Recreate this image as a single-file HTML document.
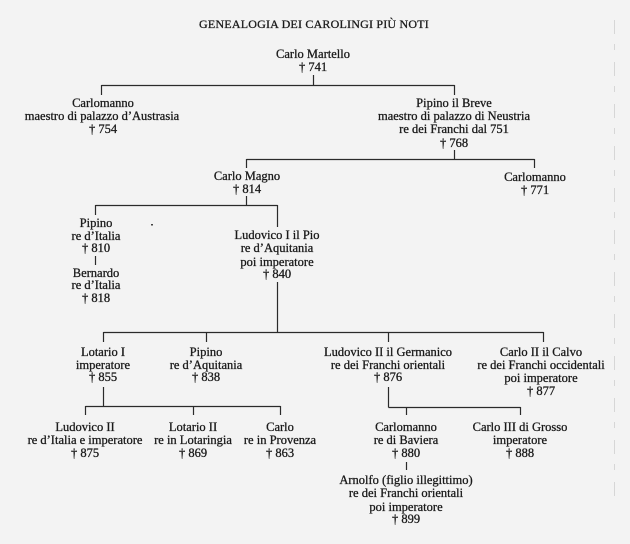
<!DOCTYPE html>
<html><head><meta charset="utf-8">
<style>
html,body{margin:0;padding:0;background:#f3f3f3;}
svg{display:block;}
text{font-family:"Liberation Serif",serif;font-size:12.5px;fill:#1a1a1a;stroke:#1a1a1a;stroke-width:0.3px;text-anchor:middle;}
.t{font-size:12px;letter-spacing:0.2px;}
line{stroke:#2a2a2a;stroke-width:1.2;}
</style></head>
<body>
<svg width="630" height="544" viewBox="0 0 630 544" xmlns="http://www.w3.org/2000/svg">
<rect x="0" y="0" width="630" height="544" fill="#f3f3f3"/>
<line x1="614.5" y1="20" x2="614.5" y2="500" style="stroke:#d6d6d6;stroke-width:1;stroke-dasharray:14 10 6 12"/>

<text class="t" x="314" y="28">GENEALOGIA DEI CAROLINGI PIÙ NOTI</text>

<text x="313" y="58">Carlo Martello</text>
<text x="313" y="71">† 741</text>
<line x1="313.5" y1="75" x2="313.5" y2="85.5"/>
<line x1="101.5" y1="85.5" x2="454.5" y2="85.5"/>
<line x1="101.5" y1="85" x2="101.5" y2="95"/>
<line x1="454.5" y1="85" x2="454.5" y2="95"/>

<text x="103" y="107">Carlomanno</text>
<text x="102" y="120">maestro di palazzo d’Austrasia</text>
<text x="103" y="133">† 754</text>

<text x="454" y="107">Pipino il Breve</text>
<text x="454" y="120">maestro di palazzo di Neustria</text>
<text x="454" y="133">re dei Franchi dal 751</text>
<text x="454" y="147">† 768</text>
<line x1="454.5" y1="150" x2="454.5" y2="159.5"/>
<line x1="246.5" y1="159.5" x2="534.5" y2="159.5"/>
<line x1="246.5" y1="159" x2="246.5" y2="168"/>
<line x1="534.5" y1="159" x2="534.5" y2="168"/>

<text x="247" y="180">Carlo Magno</text>
<text x="247" y="193">† 814</text>
<text x="535" y="181">Carlomanno</text>
<text x="535" y="194">† 771</text>

<line x1="246.5" y1="196" x2="246.5" y2="205.5"/>
<line x1="95.5" y1="205.5" x2="277.5" y2="205.5"/>
<line x1="95.5" y1="205" x2="95.5" y2="215"/>
<line x1="277.5" y1="205" x2="277.5" y2="227"/>

<text x="96" y="227">Pipino</text>
<text x="96" y="240">re d’Italia</text>
<text x="96" y="252">† 810</text>
<line x1="95.5" y1="256" x2="95.5" y2="265"/>
<text x="96" y="277">Bernardo</text>
<text x="96" y="289">re d’Italia</text>
<text x="96" y="302">† 818</text>

<rect x="151" y="224" width="2" height="1.5" fill="#444"/>

<text x="277" y="239">Ludovico I il Pio</text>
<text x="277" y="252">re d’Aquitania</text>
<text x="277" y="266">poi imperatore</text>
<text x="277" y="278">† 840</text>
<line x1="277.5" y1="282" x2="277.5" y2="332.5"/>
<line x1="103.5" y1="332.5" x2="543.5" y2="332.5"/>
<line x1="103.5" y1="332" x2="103.5" y2="342"/>
<line x1="206.5" y1="332" x2="206.5" y2="342"/>
<line x1="388.5" y1="332" x2="388.5" y2="342"/>
<line x1="543.5" y1="332" x2="543.5" y2="342"/>

<text x="103" y="356">Lotario I</text>
<text x="103" y="369">imperatore</text>
<text x="103" y="381">† 855</text>

<text x="206" y="356">Pipino</text>
<text x="206" y="369">re d’Aquitania</text>
<text x="206" y="381">† 838</text>

<text x="388" y="356">Ludovico II il Germanico</text>
<text x="388" y="369">re dei Franchi orientali</text>
<text x="388" y="381">† 876</text>

<text x="541" y="356">Carlo II il Calvo</text>
<text x="541" y="369">re dei Franchi occidentali</text>
<text x="541" y="382">poi imperatore</text>
<text x="541" y="395">† 877</text>

<line x1="103.5" y1="387" x2="103.5" y2="406.5"/>
<line x1="85.5" y1="406.5" x2="280.5" y2="406.5"/>
<line x1="85.5" y1="406" x2="85.5" y2="415"/>
<line x1="193.5" y1="406" x2="193.5" y2="415"/>
<line x1="280.5" y1="406" x2="280.5" y2="415"/>

<line x1="388.5" y1="387" x2="388.5" y2="407.5"/>
<line x1="388.5" y1="407.5" x2="520.5" y2="407.5"/>
<line x1="406.5" y1="407" x2="406.5" y2="415"/>
<line x1="520.5" y1="407" x2="520.5" y2="415"/>

<text x="85" y="431">Ludovico II</text>
<text x="85" y="444">re d’Italia e imperatore</text>
<text x="85" y="457">† 875</text>

<text x="193" y="431">Lotario II</text>
<text x="193" y="444">re in Lotaringia</text>
<text x="193" y="457">† 869</text>

<text x="280" y="431">Carlo</text>
<text x="280" y="444">re in Provenza</text>
<text x="280" y="457">† 863</text>

<text x="406" y="431">Carlomanno</text>
<text x="406" y="444">re di Baviera</text>
<text x="406" y="457">† 880</text>
<line x1="406.5" y1="462" x2="406.5" y2="470"/>
<text x="406" y="484">Arnolfo (figlio illegittimo)</text>
<text x="406" y="497">re dei Franchi orientali</text>
<text x="406" y="511">poi imperatore</text>
<text x="406" y="523">† 899</text>

<text x="520" y="431">Carlo III di Grosso</text>
<text x="520" y="444">imperatore</text>
<text x="520" y="457">† 888</text>
</svg>
</body></html>
